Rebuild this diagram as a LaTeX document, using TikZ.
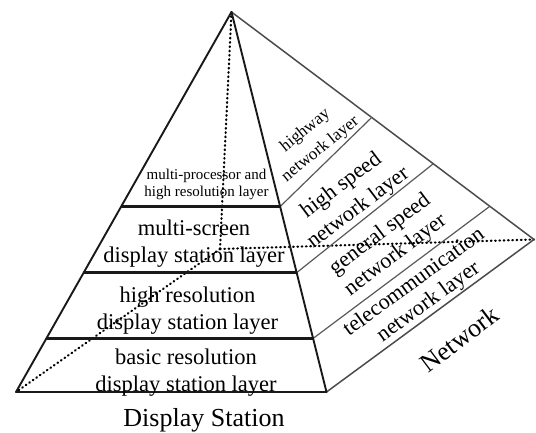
\documentclass[tikz,border=0pt]{standalone}
\usepackage{fontspec}
\setmainfont{Liberation Serif}
\usetikzlibrary{calc}
\begin{document}
\begin{tikzpicture}[x=1pt,y=-1pt,
  frontedge/.style={line width=1.9pt, black!90, line join=round},
  sideedge/.style={line width=1.5pt, black!70, line join=round},
  layerline/.style={line width=2.4pt, black!90},
  sideline/.style={line width=1.2pt, black!65},
  hidden/.style={line width=2.2pt, black, line cap=round, dash pattern=on 0.7pt off 3.6pt},
  lbl/.style={align=center, inner sep=0pt, text=black, font=\fontsize{22.5}{27}\selectfont}
]
\useasboundingbox (0,0) rectangle (536,433);
% main vertices
\coordinate (A) at (231.5,12);
\coordinate (BL) at (16,392);
\coordinate (BR) at (326.5,392);
\coordinate (R) at (534,239.5);
\coordinate (H) at (220,249);
% layer division points
\coordinate (L1) at ($(A)!0.512!(BL)$);
\coordinate (F1) at ($(A)!0.512!(BR)$);
\coordinate (T1) at ($(A)!0.4635!(R)$);
\coordinate (L2) at ($(A)!0.686!(BL)$);
\coordinate (F2) at ($(A)!0.686!(BR)$);
\coordinate (T2) at ($(A)!0.667!(R)$);
\coordinate (L3) at ($(A)!0.859!(BL)$);
\coordinate (F3) at ($(A)!0.859!(BR)$);
\coordinate (T3) at ($(A)!0.854!(R)$);
% hidden edges
\draw[hidden] (A) -- (H);
\draw[hidden] (H) -- (BL);
\draw[hidden] (H) -- (R);
% right face
\draw[sideedge] (A) -- (R) -- (BR);
\draw[sideline] (F1) -- (T1);
\draw[sideline] (F2) -- (T2);
\draw[sideline] (F3) -- (T3);
% front face
\draw[layerline] (L1) -- (F1);
\draw[layerline] (L2) -- (F2);
\draw[layerline] (L3) -- (F3);
\draw[frontedge] (BR) -- (A) -- (BL) -- cycle;
% front labels
\node[lbl, font=\fontsize{15}{17.4}\selectfont] (mp) at (206.5,184.5) {multi-processor and\\high resolution layer};
\node[lbl] (ms) at (194,243.3) {multi-screen\\display station layer};
\node[lbl] (hr) at (187.5,310.8) {high resolution\\display station layer};
\node[lbl] (br) at (186,372.3) {basic resolution\\display station layer};
\node[lbl, font=\fontsize{26}{30}\selectfont, anchor=base] (ds) at (204,426.7) {Display Station};
% right face labels
\node[lbl, font=\fontsize{17}{24}\selectfont, rotate=39] (hw) at (313,140) {highway\\network layer};
\node[lbl, font=\fontsize{22}{28}\selectfont, rotate=37] (hs) at (350,197) {high speed\\network layer};
\node[lbl, font=\fontsize{22}{26}\selectfont, rotate=37] (gs) at (388,245) {general speed\\network layer};
\node[lbl, font=\fontsize{22}{24.5}\selectfont, rotate=36] (tc) at (421.5,292.5) {telecommunication\\network layer};
\node[lbl, font=\fontsize{26}{30}\selectfont, rotate=37] (nw) at (459,339) {Network};
\end{tikzpicture}
\end{document}
